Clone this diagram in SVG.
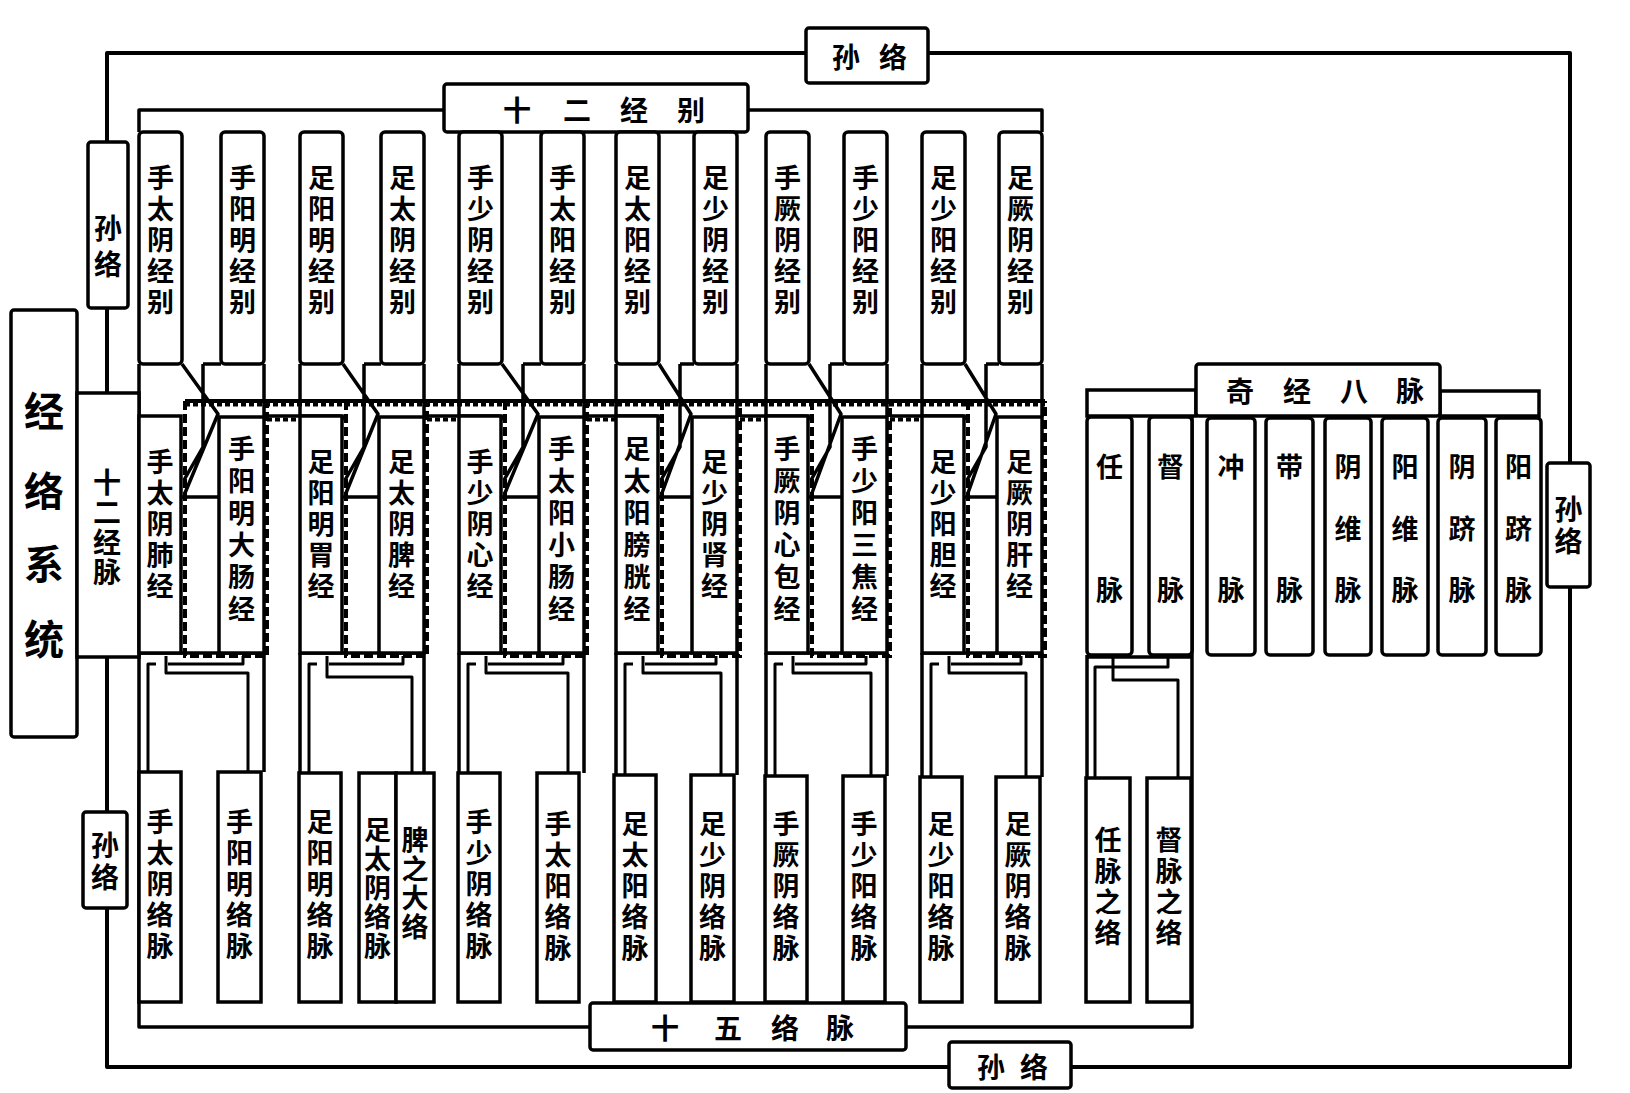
<svg xmlns="http://www.w3.org/2000/svg" width="1630" height="1093" viewBox="0 0 1630 1093">
<style>
.b{fill:#fff;stroke:#000;stroke-width:3.5}
.l{fill:none;stroke:#000;stroke-width:3.5;stroke-linejoin:round}
.f{fill:none;stroke:#000;stroke-width:4;stroke-linejoin:round}
.c{fill:none;stroke:#000;stroke-width:3;stroke-linejoin:round}
.d{fill:none;stroke:#000;stroke-width:4;stroke-dasharray:9 4}
.s{fill:none;stroke:#000;stroke-width:4;stroke-dasharray:5 3}
text{font-family:"Noto Sans CJK SC","Noto Sans CJK JP",sans-serif;font-weight:700;fill:#000;text-anchor:middle;dominant-baseline:central}
.t{font-size:27px}
.h{font-size:28px}
.big{font-size:40px}
.v{writing-mode:vertical-rl;letter-spacing:4px}
.v2{writing-mode:vertical-rl;letter-spacing:2px}
.v5{writing-mode:vertical-rl;letter-spacing:5px}
.v8{writing-mode:vertical-rl;letter-spacing:8px}
</style>
<rect width="1630" height="1093" fill="#fff"/>
<g id="connectors">
<path class="f" d="M806,53H107V142M107,308V393M107,657V812M107,908V1067H949M1071,1067H1570V587M1570,463V53H928"/>
<path class="l" d="M139,132V110H444M748,110H1042V132"/>
<path class="l" d="M139,653V1027H590M906,1027H1192V416"/>
<path class="f" d="M185,401H1045"/>
<path class="s" d="M185,404.5H1045"/>
<!-- group 1 -->
<path class="l" d="M139,364V416M264,364V417M203,364H221M203,364V447L184,480M182,364L218,414L185,493M182,497H219M139,653H264M264,653V772"/>
<path class="c" d="M156,664H148V772M166,656V673H248V772M243,656V664H168"/>
<path class="d" d="M185,401V656H267V401"/>
<!-- group 2 -->
<path class="l" d="M300,364V416M424,364V417M364,364H381M364,364V447L345,480M343,364L378,414L346,493M343,497H379M300,653H424M424,653V773M300,653V773M267,416H339Q346,416 346,423"/>
<path class="s" d="M267,419.5H340"/>
<path class="c" d="M317,664H309V773M327,656V677H412V773M403,656V664H329"/>
<path class="d" d="M346,401V656H427V401"/>
<!-- group 3 -->
<path class="l" d="M459,364V416M584,364V417M523,364H541M523,364V447L504,480M502,364L538,414L505,493M502,497H539M459,653H584M584,653V773M459,653V773M427,416H498Q505,416 505,423"/>
<path class="s" d="M427,419.5H499"/>
<path class="c" d="M476,664H468V773M486,656V673H568V773M563,656V664H488"/>
<path class="d" d="M505,401V656H587V401"/>
<!-- group 4 -->
<path class="l" d="M616,364V416M737,364V417M680,364H694M680,364V447L661,480M659,364L691,414L662,493M659,497H692M616,653H737M737,653V775M616,653V775M587,416H655Q662,416 662,423"/>
<path class="s" d="M587,419.5H656"/>
<path class="c" d="M633,664H625V775M643,656V673H721V775M716,656V664H645"/>
<path class="d" d="M662,401V656H740V401"/>
<!-- group 5 -->
<path class="l" d="M766,364V416M887,364V417M830,364H844M830,364V447L811,480M809,364L841,414L812,493M809,497H842M766,653H887M887,653V776M766,653V776M740,416H805Q812,416 812,423"/>
<path class="s" d="M740,419.5H806"/>
<path class="c" d="M783,664H775V776M793,656V673H871V776M866,656V664H795"/>
<path class="d" d="M812,401V656H890V401"/>
<!-- group 6 -->
<path class="l" d="M922,364V416M1042,364V417M986,364H999M986,364V447L967,480M965,364L996,414L968,493M965,497H997M922,653H1042M1042,653V777M922,653V777M890,416H961Q968,416 968,423"/>
<path class="s" d="M890,419.5H962"/>
<path class="c" d="M939,664H931V777M949,656V673H1026V777M1021,656V664H951"/>
<path class="d" d="M968,401V656H1045V401"/>
<!-- ren du -->
<path class="l" d="M1087,655V778M1087,657H1192"/>
<path class="c" d="M1113,657V680H1178V778M1168,657V667H1095V778"/>
</g>

<g id="jingluo-xitong"><rect class="b" x="11" y="310" width="66" height="427" rx="3"/>
<text class="big" x="44" y="409">经</text><text class="big" x="44" y="489">络</text><text class="big" x="44" y="562">系</text><text class="big" x="44" y="637">统</text></g>
<g id="shier-jingmai"><rect class="b" x="77" y="393" width="62" height="264"/>
<text class="h v2" x="107" y="528">十二经脉</text></g>
<g id="sunluo-1"><rect class="b" x="88" y="142" width="40" height="166" rx="3"/>
<text class="h v8" x="108" y="250">孙络</text></g>
<g id="sunluo-2"><rect class="b" x="83" y="812" width="44" height="96" rx="3"/>
<text class="h v" x="105" y="863">孙络</text></g>
<g id="sunluo-top"><rect class="b" x="806" y="28" width="122" height="55" rx="3"/>
<text class="h" x="846" y="56">孙</text><text class="h" x="893" y="56">络</text></g>
<g id="sunluo-bottom"><rect class="b" x="949" y="1042" width="122" height="46" rx="3"/>
<text class="h" x="991" y="1066">孙</text><text class="h" x="1034" y="1066">络</text></g>
<g id="sunluo-right"><rect class="b" x="1547" y="463" width="43" height="124" rx="3"/>
<text class="h v" x="1568.5" y="527">孙络</text></g>
<g id="shier-jingbie"><rect class="b" x="444" y="84" width="304" height="48" rx="3"/>
<text class="h" x="517" y="109">十</text><text class="h" x="577" y="109">二</text><text class="h" x="634" y="109">经</text><text class="h" x="691" y="109">别</text></g>
<g id="shiwu-luomai"><rect class="b" x="590" y="1003" width="316" height="47" rx="3"/>
<text class="h" x="665" y="1027">十</text><text class="h" x="728" y="1027">五</text><text class="h" x="785" y="1027">络</text><text class="h" x="840" y="1027">脉</text></g>
<g id="qijing-bamai"><rect class="b" x="1087" y="390" width="109" height="26"/><rect class="b" x="1440" y="391" width="99" height="25"/><rect class="b" x="1196" y="364" width="244" height="52" rx="3"/>
<text class="h" x="1240" y="390">奇</text><text class="h" x="1297" y="390">经</text><text class="h" x="1354" y="390">八</text><text class="h" x="1410" y="390">脉</text></g>

<!-- jingbie row -->
<g id="jb1"><rect class="b" x="139" y="132" width="43" height="232" rx="4"/><text class="t v" x="160.5" y="242">手太阴经别</text></g>
<g id="jb2"><rect class="b" x="221" y="132" width="43" height="232" rx="4"/><text class="t v" x="242.5" y="242">手阳明经别</text></g>
<g id="jb3"><rect class="b" x="300" y="132" width="43" height="232" rx="4"/><text class="t v" x="321.5" y="242">足阳明经别</text></g>
<g id="jb4"><rect class="b" x="381" y="132" width="43" height="232" rx="4"/><text class="t v" x="402.5" y="242">足太阴经别</text></g>
<g id="jb5"><rect class="b" x="459" y="132" width="43" height="232" rx="4"/><text class="t v" x="480.5" y="242">手少阴经别</text></g>
<g id="jb6"><rect class="b" x="541" y="132" width="43" height="232" rx="4"/><text class="t v" x="562.5" y="242">手太阳经别</text></g>
<g id="jb7"><rect class="b" x="616" y="132" width="43" height="232" rx="4"/><text class="t v" x="637.5" y="242">足太阳经别</text></g>
<g id="jb8"><rect class="b" x="694" y="132" width="43" height="232" rx="4"/><text class="t v" x="715.5" y="242">足少阴经别</text></g>
<g id="jb9"><rect class="b" x="766" y="132" width="43" height="232" rx="4"/><text class="t v" x="787.5" y="242">手厥阴经别</text></g>
<g id="jb10"><rect class="b" x="844" y="132" width="43" height="232" rx="4"/><text class="t v" x="865.5" y="242">手少阳经别</text></g>
<g id="jb11"><rect class="b" x="922" y="132" width="43" height="232" rx="4"/><text class="t v" x="943.5" y="242">足少阳经别</text></g>
<g id="jb12"><rect class="b" x="999" y="132" width="43" height="232" rx="4"/><text class="t v" x="1020.5" y="242">足厥阴经别</text></g>

<!-- jingmai row -->
<g id="jm1"><rect class="b" x="139" y="416" width="42" height="237"/><text class="t v" x="160" y="526">手太阴肺经</text></g>
<g id="jm2"><rect class="b" x="219" y="417" width="45" height="236"/><text class="t v5" x="241.5" y="531.5">手阳明大肠经</text></g>
<g id="jm3"><rect class="b" x="300" y="416" width="42" height="237"/><text class="t v" x="321" y="526">足阳明胃经</text></g>
<g id="jm4"><rect class="b" x="379" y="417" width="45" height="236"/><text class="t v" x="401.5" y="526">足太阴脾经</text></g>
<g id="jm5"><rect class="b" x="459" y="416" width="42" height="237"/><text class="t v" x="480" y="526">手少阴心经</text></g>
<g id="jm6"><rect class="b" x="539" y="417" width="45" height="236"/><text class="t v5" x="561.5" y="531.5">手太阳小肠经</text></g>
<g id="jm7"><rect class="b" x="616" y="416" width="42" height="237"/><text class="t v5" x="637" y="531.5">足太阳膀胱经</text></g>
<g id="jm8"><rect class="b" x="692" y="417" width="45" height="236"/><text class="t v" x="714.5" y="526">足少阴肾经</text></g>
<g id="jm9"><rect class="b" x="766" y="416" width="42" height="237"/><text class="t v5" x="787" y="531.5">手厥阴心包经</text></g>
<g id="jm10"><rect class="b" x="842" y="417" width="45" height="236"/><text class="t v5" x="864.5" y="531.5">手少阳三焦经</text></g>
<g id="jm11"><rect class="b" x="922" y="416" width="42" height="237"/><text class="t v" x="943" y="526">足少阳胆经</text></g>
<g id="jm12"><rect class="b" x="997" y="417" width="45" height="236"/><text class="t v" x="1019.5" y="526">足厥阴肝经</text></g>

<!-- luomai row -->
<g id="lm1"><rect class="b" x="139" y="772" width="42" height="230"/><text class="t v" x="160" y="886">手太阴络脉</text></g>
<g id="lm2"><rect class="b" x="218" y="772" width="43" height="230"/><text class="t v" x="239.5" y="886">手阳明络脉</text></g>
<g id="lm3"><rect class="b" x="299" y="773" width="42" height="229"/><text class="t v" x="320" y="886">足阳明络脉</text></g>
<g id="lm4"><rect class="b" x="359" y="773" width="37" height="229"/><text class="t v2" x="377.5" y="889">足太阴络脉</text></g>
<g id="lm5"><rect class="b" x="396" y="773" width="38" height="229"/><text class="t v2" x="415" y="884.5">脾之大络</text></g>
<g id="lm6"><rect class="b" x="458" y="773" width="42" height="229"/><text class="t v" x="479" y="886">手少阴络脉</text></g>
<g id="lm7"><rect class="b" x="537" y="773" width="42" height="229"/><text class="t v" x="558" y="888">手太阳络脉</text></g>
<g id="lm8"><rect class="b" x="614" y="775" width="42" height="227"/><text class="t v" x="635" y="888">足太阳络脉</text></g>
<g id="lm9"><rect class="b" x="691" y="775" width="43" height="227"/><text class="t v" x="712.5" y="888">足少阴络脉</text></g>
<g id="lm10"><rect class="b" x="765" y="776" width="42" height="226"/><text class="t v" x="786" y="888">手厥阴络脉</text></g>
<g id="lm11"><rect class="b" x="843" y="776" width="42" height="226"/><text class="t v" x="864" y="888">手少阳络脉</text></g>
<g id="lm12"><rect class="b" x="920" y="777" width="42" height="225"/><text class="t v" x="941" y="888">足少阳络脉</text></g>
<g id="lm13"><rect class="b" x="996" y="777" width="44" height="225"/><text class="t v" x="1018" y="888">足厥阴络脉</text></g>
<g id="lm14"><rect class="b" x="1086" y="778" width="44" height="224"/><text class="t v" x="1108" y="888">任脉之络</text></g>
<g id="lm15"><rect class="b" x="1147" y="778" width="44" height="224"/><text class="t v" x="1169" y="888">督脉之络</text></g>

<!-- qijing boxes -->
<g id="qj1"><rect class="b" x="1087" y="417" width="45" height="238" rx="4"/><text class="t" x="1109.5" y="465">任</text><text class="t" x="1109.5" y="588">脉</text></g>
<g id="qj2"><rect class="b" x="1149" y="417" width="43" height="238" rx="4"/><text class="t" x="1170.5" y="465">督</text><text class="t" x="1170.5" y="588">脉</text></g>
<g id="qj3"><rect class="b" x="1207" y="418" width="48" height="237" rx="4"/><text class="t" x="1231" y="465">冲</text><text class="t" x="1231" y="588">脉</text></g>
<g id="qj4"><rect class="b" x="1266" y="418" width="47" height="237" rx="4"/><text class="t" x="1289.5" y="465">带</text><text class="t" x="1289.5" y="588">脉</text></g>
<g id="qj5"><rect class="b" x="1325" y="418" width="46" height="237" rx="4"/><text class="t" x="1348" y="465">阴</text><text class="t" x="1348" y="527">维</text><text class="t" x="1348" y="588">脉</text></g>
<g id="qj6"><rect class="b" x="1382" y="418" width="46" height="237" rx="4"/><text class="t" x="1405" y="465">阳</text><text class="t" x="1405" y="527">维</text><text class="t" x="1405" y="588">脉</text></g>
<g id="qj7"><rect class="b" x="1438" y="418" width="48" height="237" rx="4"/><text class="t" x="1462" y="465">阴</text><text class="t" x="1462" y="527">跻</text><text class="t" x="1462" y="588">脉</text></g>
<g id="qj8"><rect class="b" x="1496" y="418" width="45" height="237" rx="4"/><text class="t" x="1518.5" y="465">阳</text><text class="t" x="1518.5" y="527">跻</text><text class="t" x="1518.5" y="588">脉</text></g>
</svg>
